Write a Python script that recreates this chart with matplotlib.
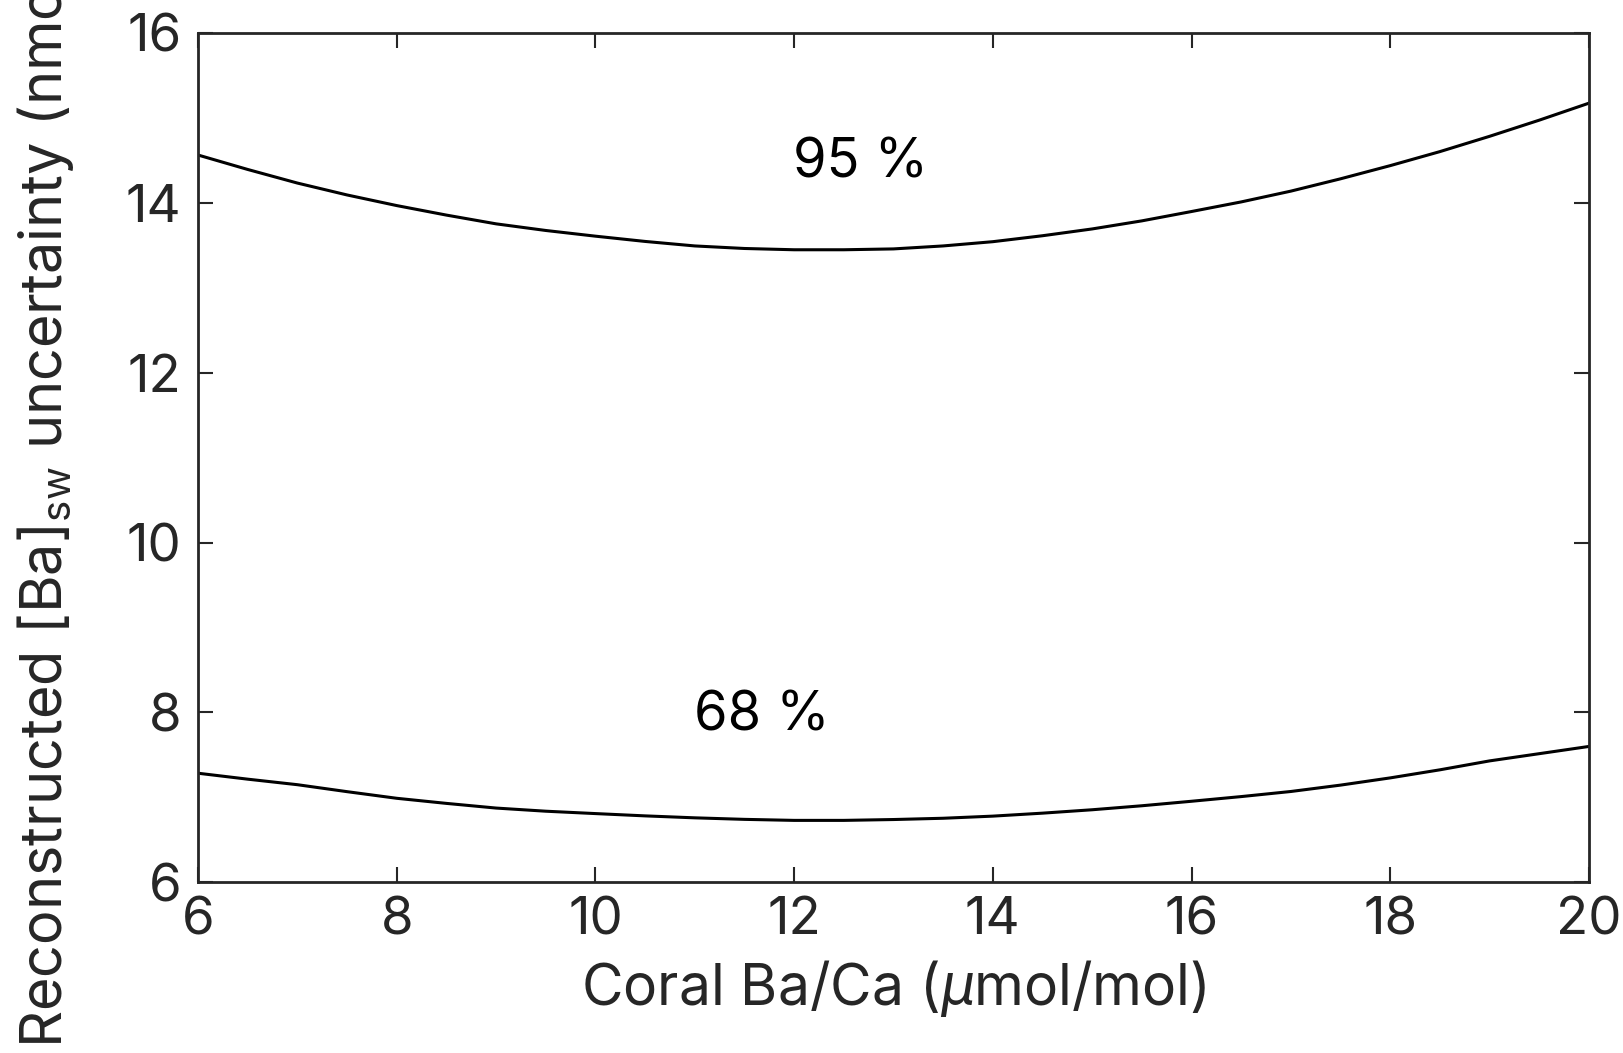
import matplotlib
matplotlib.use("Agg")
import matplotlib.pyplot as plt

plt.rcParams['font.family'] = ['Inter', 'DejaVu Sans']
plt.rcParams['mathtext.fontset'] = 'custom'
plt.rcParams['mathtext.rm'] = 'Inter'
plt.rcParams['mathtext.it'] = 'Inter:italic'

# coral Ba/Ca (umol/mol)
ba_ca = [6, 6.5, 7, 7.5, 8, 8.5, 9, 9.5, 10, 10.5, 11, 11.5, 12, 12.5, 13,
         13.5, 14, 14.5, 15, 15.5, 16, 16.5, 17, 17.5, 18, 18.5, 19, 19.5, 20]
# uncertainty curves (nmol/kg)
unc_95 = [14.56, 14.39, 14.23, 14.09, 13.965, 13.853, 13.75, 13.672, 13.605,
          13.543, 13.49, 13.46, 13.445, 13.445, 13.455, 13.49, 13.54, 13.61,
          13.69, 13.785, 13.895, 14.008, 14.135, 14.28, 14.435, 14.60, 14.78,
          14.97, 15.17]
unc_68 = [7.285, 7.215, 7.15, 7.068, 6.99, 6.93, 6.875, 6.838, 6.81, 6.783,
          6.76, 6.742, 6.73, 6.73, 6.74, 6.755, 6.78, 6.815, 6.855, 6.902,
          6.955, 7.01, 7.07, 7.145, 7.23, 7.325, 7.43, 7.515, 7.60]

labels = ['95 %', '68 %']
label_x = [12.67, 11.67]
label_y = [14.47, 7.96]

fig = plt.figure(figsize=(16.23, 10.53), dpi=100)
ax = fig.add_axes([0.122, 0.162, 0.857, 0.807])

ax.plot(ba_ca, unc_95, color='black', lw=2.2)
ax.plot(ba_ca, unc_68, color='black', lw=2.2)

for t, x, y in zip(labels, label_x, label_y):
    ax.text(x, y, t, fontsize=39, ha='center', va='center', color='black')

ax.set_xlim(6, 20)
ax.set_ylim(6, 16)
ax.set_xticks(range(6, 21, 2))
ax.set_yticks(range(6, 17, 2))

for s in ax.spines.values():
    s.set_linewidth(2)
    s.set_color('#262626')
ax.tick_params(direction='in', length=11, width=1.5, colors='#262626',
               labelsize=38, top=True, right=True)
ax.tick_params(axis='x', pad=10)
ax.tick_params(axis='y', pad=12)

ax.set_xlabel(r'Coral Ba/Ca ($\mathit{\mu}$mol/mol)', fontsize=41,
              color='#262626', labelpad=9)
ax.set_ylabel(r'Reconstructed [Ba]$_{\rm sw}$ uncertainty (nmol/kg)',
              fontsize=41.5, color='#262626', labelpad=36)
ax.yaxis.label.set_y(0.5)

fig.savefig('out.png', dpi=100)
